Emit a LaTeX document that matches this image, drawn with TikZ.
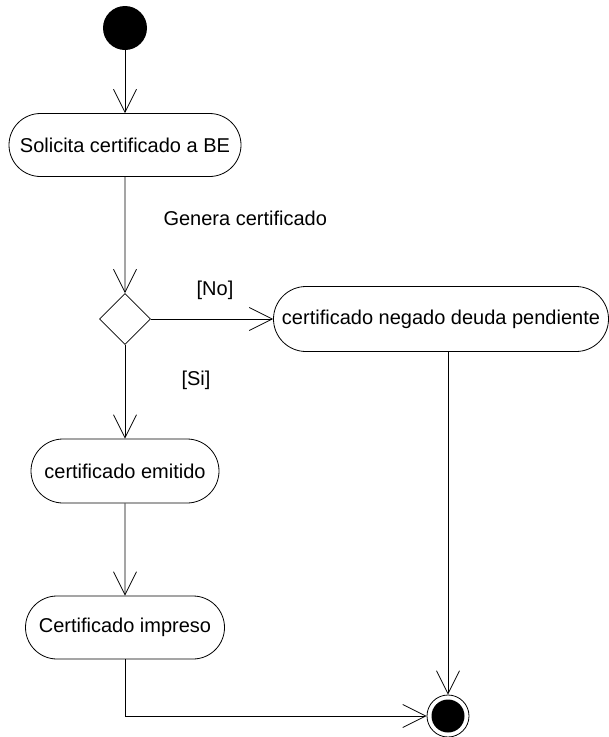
\documentclass[tikz,border=0pt]{standalone}
\usepackage{fontspec}
\setmainfont{Liberation Sans}
\usetikzlibrary{shapes.misc,shapes.geometric,arrows.meta}
\tikzset{
  actividad/.style={rounded rectangle, draw, line width=0.8pt, minimum height=63pt, inner sep=0pt},
  inicio/.style={circle, fill=black, minimum size=44pt, inner sep=0pt},
  fin/.style={circle, draw, line width=0.8pt, minimum size=42pt, inner sep=0pt,
    path picture={\fill (path picture bounding box.center) circle (16.5pt);}},
  decision/.style={diamond, draw, line width=0.8pt, minimum size=51pt, inner sep=0pt},
  flujo/.style={line width=0.8pt, -{Straight Barb[length=23pt,width=23pt,line width=0.8pt]}},
}
\begin{document}
\begin{tikzpicture}[x=1pt,y=-1pt,font=\fontsize{20}{24}\selectfont]
\useasboundingbox (0,0) rectangle (609,737);
\node[inicio] (ini) at (125,28) {};
\node[actividad, minimum width=232pt] (solicita) at (125,145) {Solicita certificado a BE};
\node[anchor=west] (genera) at (160,218) {Genera certificado};
\node[decision] (dec) at (125,319) {};
\node (no) at (215,290) {[No]};
\node[actividad, minimum width=335pt, minimum height=65pt] (negado) at (441,319) {certificado negado deuda pendiente};
\node (si) at (196,380) {[Si]};
\node[actividad, minimum width=188pt, minimum height=64pt] (emitido) at (125,471) {certificado emitido};
\node[actividad, minimum width=199pt] (impreso) at (125,627.5) {Certificado impreso};
\node[fin] (fin) at (448,716) {};
\draw[flujo] (ini) -- (solicita);
\draw[flujo] (solicita) -- (dec);
\draw[flujo] (dec.east) -- (negado.west);
\draw[flujo] (dec) -- (emitido);
\draw[flujo] (emitido) -- (impreso);
\draw[flujo] (impreso) |- (fin);
\draw[flujo] (fin |- negado.south) -- (fin);
\end{tikzpicture}
\end{document}
